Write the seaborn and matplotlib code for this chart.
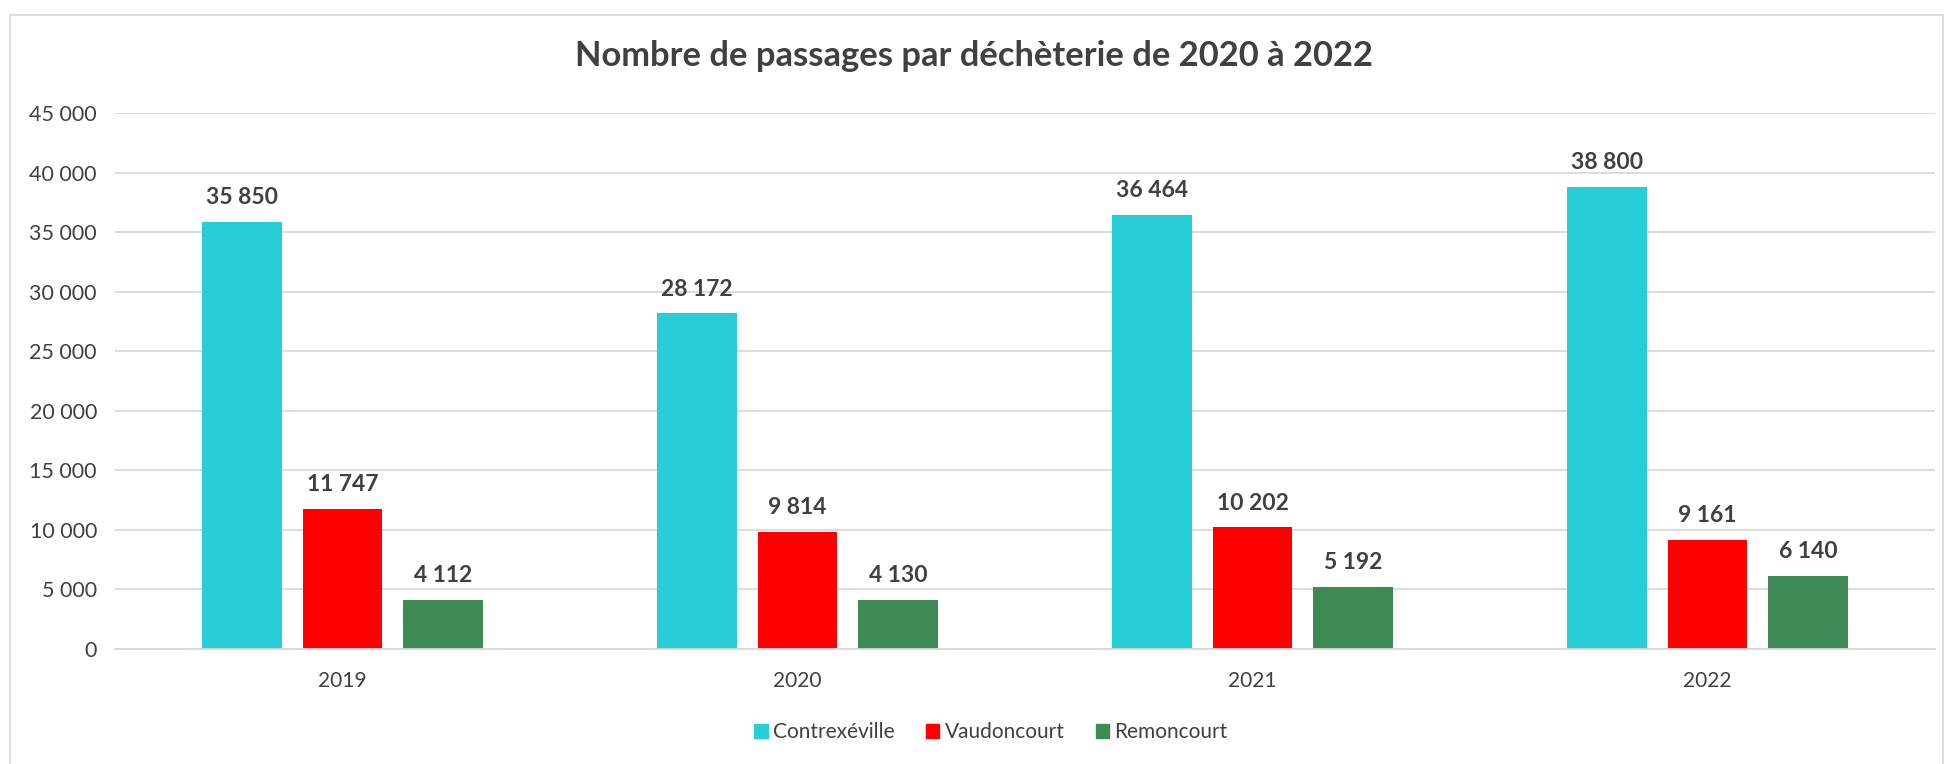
import numpy as np
import pandas as pd
import matplotlib.pyplot as plt
import seaborn as sns
from matplotlib.patches import Rectangle
from matplotlib.ticker import FuncFormatter, FixedLocator

years = ["2019", "2020", "2021", "2022"]
sites = ["Contrexéville", "Vaudoncourt", "Remoncourt"]
contrexeville = [35850, 28172, 36464, 38800]
vaudoncourt = [11747, 9814, 10202, 9161]
remoncourt = [4112, 4130, 5192, 6140]
colors = ["#27CED7", "#FF0000", "#3D8A55"]

df = pd.DataFrame({
    "annee": years * 3,
    "site": [s for s in sites for _ in years],
    "passages": contrexeville + vaudoncourt + remoncourt,
})

sns.set_style("white")
plt.rcParams['font.family'] = ['Lato', 'DejaVu Sans']
txt = "#404040"

fig = plt.figure(figsize=(19.46, 7.64), dpi=100)
ax = fig.add_axes([115 / 1946, 1 - 649 / 764, 1820 / 1946, 536 / 764])

sns.barplot(data=df, x="annee", y="passages", hue="site", order=years,
            hue_order=sites, palette=dict(zip(sites, colors)),
            width=0.663, gap=0.21, linewidth=0, saturation=1, ax=ax)

def fmt(v, pos=None):
    return f"{int(v):,}".replace(",", " ")

for cont in ax.containers:
    ax.bar_label(cont, labels=[fmt(b.get_height()) for b in cont],
                 padding=10, fontsize=16.5, fontweight="bold", color=txt)

ax.set_ylim(0, 45000)
ax.set_xlim(-0.5, 3.5)
ax.set_yticks(np.arange(0, 45001, 5000))
ax.yaxis.set_major_formatter(FuncFormatter(fmt))
ax.yaxis.grid(True, color="#D9D9D9", linewidth=1.3)
ax.set_axisbelow(True)
for s in ["top", "right", "left"]:
    ax.spines[s].set_visible(False)
ax.spines["bottom"].set_color("#D9D9D9")
ax.spines["bottom"].set_linewidth(1.3)
ax.tick_params(axis="y", length=0, labelsize=15.5, labelcolor=txt, pad=13)
ax.tick_params(axis="x", which="major", length=0, labelsize=15, labelcolor=txt, pad=16)
ax.xaxis.set_minor_locator(FixedLocator([-0.5, 0.5, 1.5, 2.5, 3.5]))
ax.tick_params(axis="x", which="minor", length=7, color="#D9D9D9", width=1.3)
ax.set_xlabel("")
ax.set_ylabel("")

ax.legend_.remove()
handles = [Rectangle((0, 0), 1, 1, color=c) for c in colors]
fig.legend(handles, sites, loc="center", bbox_to_anchor=(991 / 1946, 1 - 732 / 764),
           ncol=3, frameon=False, fontsize=15, labelcolor=txt,
           handlelength=0.65, handleheight=0.65, handletextpad=0.25, columnspacing=1.5)

fig.text(974 / 1946, 1 - 56 / 764, "Nombre de passages par déchèterie de 2020 à 2022",
         ha="center", va="center", fontsize=24.8, fontweight="bold", color=txt)

fig.patches.append(Rectangle((10 / 1946, -0.1), 1933 / 1946, 1.1 - 15 / 764,
                             transform=fig.transFigure, fill=False,
                             edgecolor="#D9D9D9", linewidth=1.3))

fig.savefig("out.png", dpi=100)
